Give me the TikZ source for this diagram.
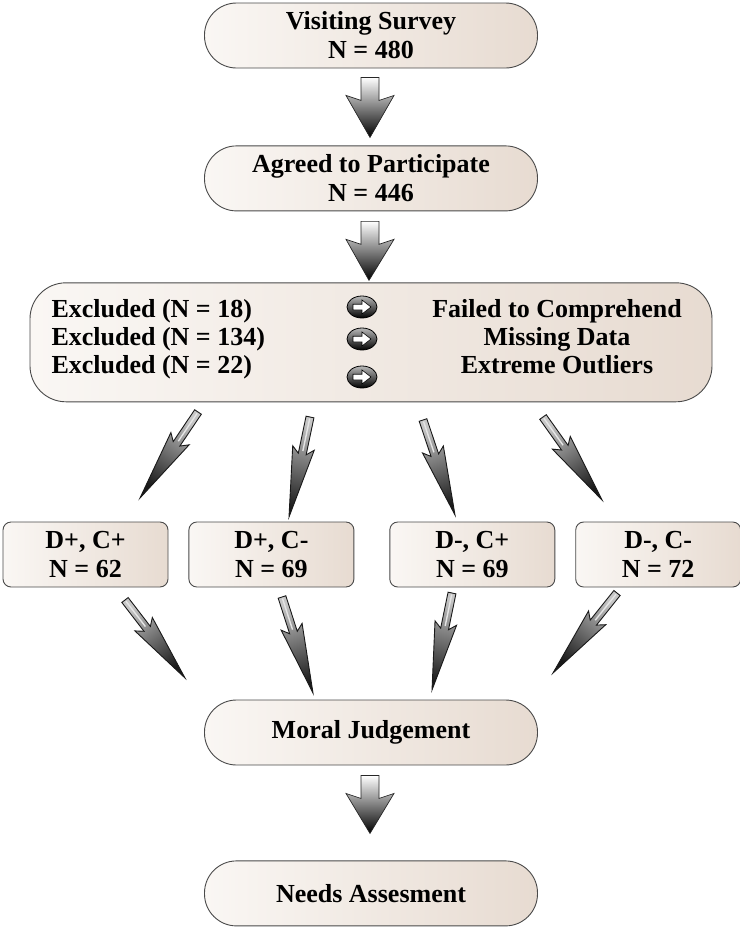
\documentclass[tikz,border=0pt]{standalone}
\usepackage{fontspec}
\setmainfont{Liberation Serif}
\usepackage{tikz}
\usetikzlibrary{positioning,calc}
\definecolor{boxlight}{HTML}{FAF7F4}
\definecolor{boxdark}{HTML}{E7DBD1}
\definecolor{edge}{HTML}{4A4A4A}

% fat down arrow: shaft top, tip
\newcommand{\bigarrow}[2]{%
  \draw[blockarrow] ($(#1)+(-9,0)$) -- ($(#1)+(9,0)$) -- ($(#1)+(9,23)$)
    -- ($(#1)+(24,18)$) -- (#2) -- ($(#1)+(-24,18)$) -- ($(#1)+(-9,23)$) -- cycle;
}
% slim barbed arrow: tail, tip, shading angle
\newcommand{\slimarrow}[3]{%
  \draw[slim, shading angle=#3] ($(#1)!4pt!90:(#2)$)
    -- ($(#1)!0.37!(#2)!4pt!90:(#2)$) -- ($(#1)!0.31!(#2)!11pt!90:(#2)$)
    -- (#2)
    -- ($(#1)!0.31!(#2)!11pt!-90:(#2)$) -- ($(#1)!0.37!(#2)!4pt!-90:(#2)$)
    -- ($(#1)!4pt!-90:(#2)$) -- cycle;
  \draw[gray!20, line width=1.4pt] ($(#1)!1.5pt!(#2)$) -- ($(#1)!0.34!(#2)$);
}

\begin{document}
\begin{tikzpicture}[
  x=1pt, y=-1pt,
  font=\bfseries\fontsize{26}{29}\selectfont,
  pill/.style={draw=edge, line width=0.9pt, rounded corners=32pt,
    left color=boxlight, right color=boxdark, inner sep=0pt,
    minimum width=333pt, minimum height=65pt, align=center},
  group/.style={draw=edge, line width=0.9pt, rounded corners=8pt,
    left color=boxlight, right color=boxdark, inner sep=0pt,
    minimum width=165pt, minimum height=65pt, align=center},
  wide/.style={draw=edge, line width=0.9pt, rounded corners=36pt,
    left color=boxlight, right color=boxdark, inner sep=0pt,
    minimum width=682pt, minimum height=119pt},
  blockarrow/.style={draw=black!85, line width=0.7pt, top color=white,
    bottom color=black},
  slim/.style={draw=black!90, line width=0.9pt, top color=gray!45,
    bottom color=black!90},
  golink/.pic={
    \draw[black, line width=0.8pt, top color=gray!55, bottom color=black]
      (0,0) ellipse [x radius=15pt, y radius=11pt];
    \draw[black, line width=0.6pt, fill=white] (-9,-2.8) -- (0,-2.8) -- (0,-7)
      -- (9,0) -- (0,7) -- (0,2.8) -- (-9,2.8) -- cycle;
  },
]
  \useasboundingbox (0,0) rectangle (739,929);

  % main chain
  \node[pill] (visit) at (371,35.5) {Visiting Survey\\N = 480};
  \node[pill, below=77pt of visit] (agree) {Agreed to Participate\\N = 446};
  \node[wide, below=71pt of agree] (excl) {};

  % exclusions
  \node[anchor=base west] (ex1) at (48,317) {Excluded (N = 18)};
  \node[anchor=base west] (ex2) at (48,345) {Excluded (N = 134)};
  \node[anchor=base west] (ex3) at (48,373) {Excluded (N = 22)};
  \node[anchor=base] (why1) at (557,317) {Failed to Comprehend};
  \node[anchor=base] (why2) at (557,345) {Missing Data};
  \node[anchor=base] (why3) at (557,373) {Extreme Outliers};
  \pic at (362,307) {golink};
  \pic at (362,339) {golink};
  \pic at (362,377) {golink};

  % conditions
  \node[group] (dpcp) at (85.5,554.5) {D+, C+\\N = 62};
  \node[group, right=20pt of dpcp] (dpcm) {D+, C-\\N = 69};
  \node[group, right=35pt of dpcm] (dmcp) {D-, C+\\N = 69};
  \node[group, right=20pt of dmcp] (dmcm) {D-, C-\\N = 72};

  \node[pill] (moral) at (371,732.5) {Moral Judgement};
  \node[pill, below=95pt of moral] (needs) {Needs Assesment};

  % fat arrows
  \coordinate (f1t) at ($(visit.south)+(-1,9)$);
  \coordinate (f1h) at ($(agree.north)+(-1,-8)$);
  \coordinate (f2t) at ($(agree.south)+(-1,10)$);
  \coordinate (f2h) at ($(excl.north)+(-2,-2)$);
  \coordinate (f3t) at ($(moral.south)+(-1,10)$);
  \coordinate (f3h) at ($(needs.north)+(-1,-27)$);
  \bigarrow{f1t}{f1h}
  \bigarrow{f2t}{f2h}
  \bigarrow{f3t}{f3h}

  % slim arrows
  \coordinate (a1t) at (198,412);  \coordinate (a1h) at (140,498);
  \coordinate (a2t) at (310,417);  \coordinate (a2h) at (289,517);
  \coordinate (a3t) at (423,420);  \coordinate (a3h) at (455,515);
  \coordinate (a4t) at (543,417);  \coordinate (a4h) at (602,500);
  \coordinate (b1t) at (125,600);  \coordinate (b1h) at (185,678);
  \coordinate (b2t) at (282,597);  \coordinate (b2h) at (313,693);
  \coordinate (b3t) at (452,593);  \coordinate (b3h) at (432,690);
  \coordinate (b4t) at (617,593);  \coordinate (b4h) at (553,673);
  \slimarrow{a1t}{a1h}{-34}
  \slimarrow{a2t}{a2h}{-12}
  \slimarrow{a3t}{a3h}{19}
  \slimarrow{a4t}{a4h}{35}
  \slimarrow{b1t}{b1h}{38}
  \slimarrow{b2t}{b2h}{18}
  \slimarrow{b3t}{b3h}{-12}
  \slimarrow{b4t}{b4h}{-39}
\end{tikzpicture}
\end{document}
